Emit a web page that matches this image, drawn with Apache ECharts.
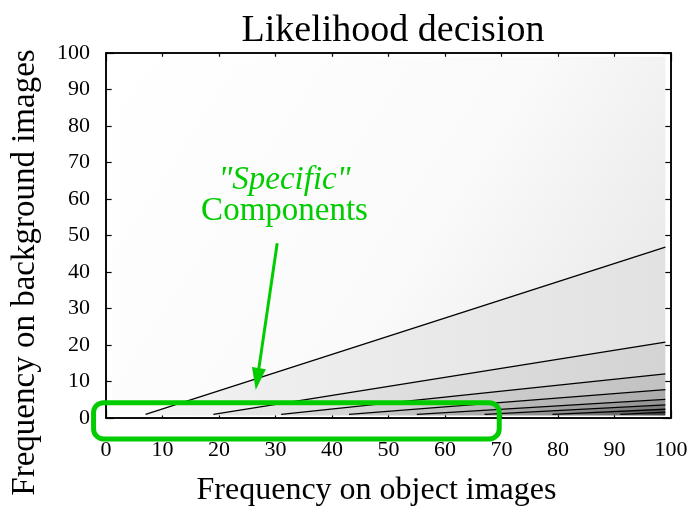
<!DOCTYPE html>
<html><head><meta charset="utf-8">
<script src="https://cdn.jsdelivr.net/npm/echarts@6/dist/echarts.min.js"></script>
<style>html,body{margin:0;padding:0;background:#fff}#c{width:694px;height:510px}</style>
</head><body><div id="c"></div>
<script>
const titleText = 'Likelihood decision';
const xAxisName = 'Frequency on object images';
const yAxisName = 'Frequency on background images';
const xTicks = [0, 10, 20, 30, 40, 50, 60, 70, 80, 90, 100];
const yTicks = [0, 10, 20, 30, 40, 50, 60, 70, 80, 90, 100];

// contour lines of the likelihood decision surface: [start, end] in data units
const contour1 = [[7, 1], [99, 46.8]];
const contour2 = [[19, 1], [99, 20.8]];
const contour3 = [[31, 1], [99, 12.1]];
const contour4 = [[43, 1], [99, 7.8]];
const contour5 = [[55, 1], [99, 5.1]];
const contour6 = [[67, 1], [99, 3.6]];
const contour7 = [[79, 1], [99, 2.4]];
const contour8 = [[91, 1], [99, 1.6]];
const fieldX = [1, 99];
const fieldY = [0.7, 99];

// annotation
const annotationLine1 = '"Specific"';
const annotationLine2 = 'Components';
const annotationLine1At = [31.6, 65];
const annotationLine2At = [31.6, 56.5];
const arrowFrom = [30.3, 47.9];
const arrowTo = [26.5, 7.7];
const boxFrom = [-2.2, 4.2];
const boxTo = [69.6, -5.75];

const contours = [contour1, contour2, contour3, contour4, contour5, contour6, contour7, contour8];

// band shading styles (left colour, right colour)
const bandShades = [
  ['#ffffff', '#e4e4e4'],
  ['#f2f2f2', '#e2e2e2'],
  ['#e6e6e6', '#d4d4d4'],
  ['#d8d8d8', '#c2c2c2'],
  ['#c8c8c8', '#acacac'],
  ['#b4b4b4', '#949494'],
  ['#9c9c9c', '#7a7a7a'],
  ['#848484', '#5c5c5c'],
  ['#6a6a6a', '#3c3c3c']
];

function bandPoints(i) {
  if (i === 0) {
    const c = contours[0];
    return [[fieldX[0], fieldY[1]], [fieldX[1], fieldY[1]], c[1], c[0], [fieldX[0], fieldY[0]]];
  }
  if (i === contours.length) {
    const c = contours[contours.length - 1];
    return [[c[0][0], fieldY[0]], c[0], c[1], [fieldX[1], fieldY[0]]];
  }
  const a = contours[i - 1], b = contours[i];
  return [[a[0][0], fieldY[0]], a[0], a[1], b[1], b[0], [b[0][0], fieldY[0]]];
}

const serif = 'Liberation Serif, Times New Roman, serif';
const green = '#00cc00';

const chart = echarts.init(document.getElementById('c'), null, {renderer: 'canvas'});

const axisCommon = {
  type: 'value', min: 0, max: 100, interval: 10,
  axisLine: {show: true, onZero: false, lineStyle: {color: '#000', width: 1.5}},
  axisTick: {show: true, inside: true, length: 8, lineStyle: {color: '#000', width: 1.2}},
  splitLine: {show: false}
};

const series = [];

series.push({
  type: 'custom', name: 'shading', silent: true, z: 1, clip: false,
  data: bandShades.map((s, i) => [i]),
  renderItem: function (params, api) {
    const i = params.dataIndex;
    const pts = bandPoints(i).map(p => api.coord(p));
    const sh = bandShades[i];
    const grad = i === 0
      ? new echarts.graphic.LinearGradient(0, 0, 1, 1, [{offset: 0, color: sh[0]}, {offset: 0.55, color: '#fafafa'}, {offset: 1, color: sh[1]}])
      : new echarts.graphic.LinearGradient(0, 0, 1, 0, [{offset: 0, color: sh[0]}, {offset: 1, color: sh[1]}]);
    return {type: 'polygon', shape: {points: pts}, style: {fill: grad, stroke: null}};
  }
});

contours.forEach((c, i) => {
  series.push({
    type: 'line', name: 'contour' + (i + 1), data: c, symbol: 'none', silent: true, z: 3,
    lineStyle: {color: '#000', width: 1.3}
  });
});

series.push({
  type: 'custom', name: 'annotation', silent: true, z: 10, clip: false,
  data: [[0]],
  renderItem: function (params, api) {
    const b0 = api.coord(boxFrom), b1 = api.coord(boxTo);
    const a0 = api.coord(arrowFrom), a1 = api.coord(arrowTo);
    const dx = a1[0] - a0[0], dy = a1[1] - a0[1];
    const len = Math.sqrt(dx * dx + dy * dy);
    const ux = dx / len, uy = dy / len;
    const nx = -uy, ny = ux;
    const hl = 22, hw = 7;
    const base = [a1[0] - ux * hl, a1[1] - uy * hl];
    const t1 = api.coord(annotationLine1At), t2 = api.coord(annotationLine2At);
    return {
      type: 'group',
      children: [
        {type: 'rect', shape: {x: Math.min(b0[0], b1[0]), y: Math.min(b0[1], b1[1]), width: Math.abs(b1[0] - b0[0]), height: Math.abs(b1[1] - b0[1]), r: 10},
          style: {fill: null, stroke: green, lineWidth: 5}},
        {type: 'line', shape: {x1: a0[0], y1: a0[1], x2: base[0] + ux * 2, y2: base[1] + uy * 2},
          style: {stroke: green, lineWidth: 3}},
        {type: 'polygon', shape: {points: [a1, [base[0] + nx * hw, base[1] + ny * hw], [base[0] - nx * hw, base[1] - ny * hw]]},
          style: {fill: green}},
        {type: 'text', x: t1[0], y: t1[1], style: {text: annotationLine1, fontFamily: serif, fontStyle: 'italic', fontSize: 33, fill: green, align: 'center', verticalAlign: 'middle'}},
        {type: 'text', x: t2[0], y: t2[1], style: {text: annotationLine2, fontFamily: serif, fontSize: 33, fill: green, align: 'center', verticalAlign: 'middle'}}
      ]
    };
  }
});

chart.setOption({
  animation: false,
  backgroundColor: '#fff',
  title: {
    text: titleText, left: 388, top: 7, textAlign: 'center',
    textStyle: {fontFamily: serif, fontSize: 38, fontWeight: 'normal', color: '#000'}
  },
  grid: {left: 106, right: 23, top: 53, bottom: 92, show: true, backgroundColor: '#fff', borderColor: '#000', borderWidth: 1.5,
    containLabel: false, outerBoundsMode: 'none'},
  xAxis: [
    Object.assign({}, axisCommon, {
      position: 'bottom', min: xTicks[0], max: xTicks[xTicks.length - 1],
      name: xAxisName, nameLocation: 'middle', nameGap: 57,
      nameTextStyle: {fontFamily: serif, fontSize: 32, color: '#000', padding: [0, 24, 0, 0]},
      axisLabel: {fontFamily: serif, fontSize: 22, color: '#000', margin: 21}
    }),
    Object.assign({}, axisCommon, {position: 'top', axisLabel: {show: false}})
  ],
  yAxis: [
    Object.assign({}, axisCommon, {
      position: 'left', min: yTicks[0], max: yTicks[yTicks.length - 1],
      name: yAxisName, nameLocation: 'middle', nameGap: 64,
      nameTextStyle: {fontFamily: serif, fontSize: 33, color: '#000', padding: [0, 74, 0, 0]},
      axisLabel: {fontFamily: serif, fontSize: 22, color: '#000', margin: 16}
    }),
    Object.assign({}, axisCommon, {position: 'right', axisLabel: {show: false}})
  ],
  series: series
});
</script></body></html>
